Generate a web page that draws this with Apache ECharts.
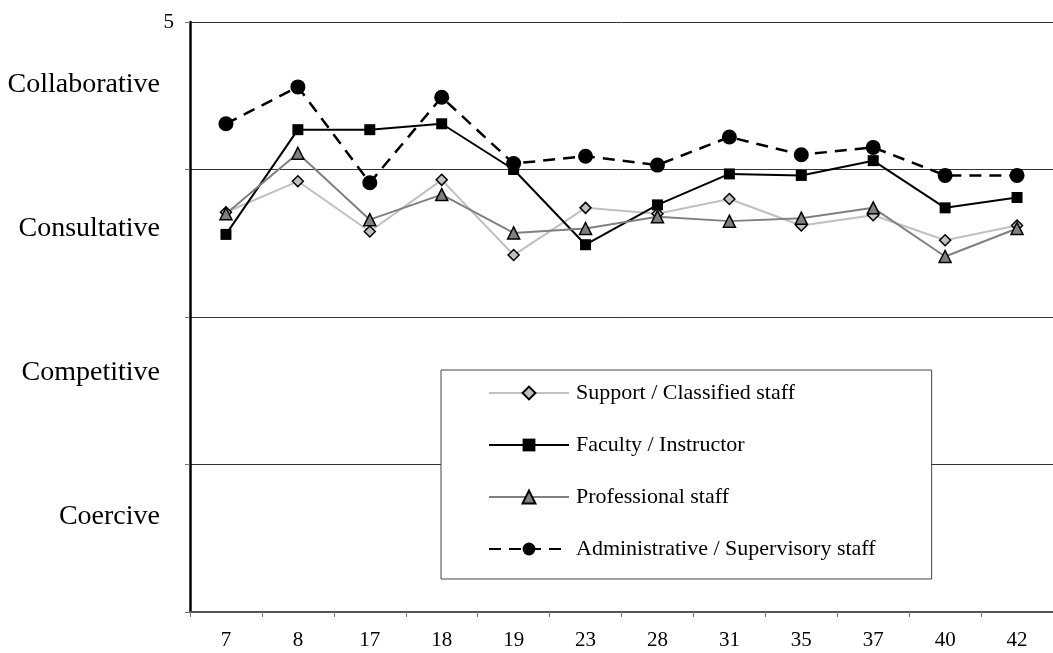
<!DOCTYPE html>
<html>
<head>
<meta charset="utf-8">
<script src="https://cdn.jsdelivr.net/npm/echarts@6/dist/echarts.min.js"></script>
<style>
  html, body { margin: 0; padding: 0; background: #fff; }
  #chart { width: 1053px; height: 653px; }
</style>
</head>
<body>
<div id="chart"></div>
<script>
// Survey items on the horizontal axis
const categories = ['7', '8', '17', '18', '19', '23', '28', '31', '35', '37', '40', '42'];

// Mean scores per staff group (scale 1 - 5)
const supportStaff   = [3.71, 3.92, 3.58, 3.93, 3.42, 3.74, 3.70, 3.80, 3.62, 3.69, 3.52, 3.62];
const faculty        = [3.56, 4.27, 4.27, 4.31, 4.00, 3.49, 3.76, 3.97, 3.96, 4.06, 3.74, 3.81];
const professional   = [3.70, 4.11, 3.66, 3.83, 3.57, 3.60, 3.68, 3.65, 3.67, 3.74, 3.41, 3.60];
const administrative = [4.31, 4.56, 3.91, 4.49, 4.04, 4.09, 4.03, 4.22, 4.10, 4.15, 3.96, 3.96];

const seriesNames = [
  'Support / Classified staff',
  'Faculty / Instructor',
  'Professional staff',
  'Administrative / Supervisory staff'
];

// Descriptive bands from top to bottom of the scale
const styleBands = ['Collaborative', 'Consultative', 'Competitive', 'Coercive'];

// Only the top of the scale carries a number
const yTickLabels = { 5: '5' };

const FONT = '"Liberation Serif", "Times New Roman", serif';

const chart = echarts.init(document.getElementById('chart'));

chart.setOption({
  animation: false,
  backgroundColor: '#fff',
  textStyle: { fontFamily: FONT },
  grid: { left: 190, top: 22, bottom: 41, width: 873.6, containLabel: false },
  xAxis: {
    type: 'category',
    data: categories,
    boundaryGap: true,
    axisLine: { show: true, lineStyle: { color: '#555', width: 2 } },
    axisTick: { show: true, length: 5, alignWithLabel: false, lineStyle: { color: '#777', width: 1 } },
    axisLabel: { margin: 18, color: '#000', fontFamily: FONT, fontSize: 21 },
    splitLine: { show: false }
  },
  yAxis: {
    type: 'value',
    min: 1,
    max: 5,
    interval: 1,
    axisLine: { show: true, lineStyle: { color: '#000', width: 2.5 } },
    axisTick: { show: true, length: 5, lineStyle: { color: '#777', width: 1 } },
    axisLabel: {
      margin: 16,
      color: '#000',
      fontFamily: FONT,
      fontSize: 21,
      formatter: v => yTickLabels[v] || ''
    },
    splitLine: { show: true, lineStyle: { color: '#333', width: 1 } }
  },
  legend: {
    orient: 'vertical',
    left: 441,
    top: 370,
    padding: [12, 56, 19, 47],
    itemWidth: 80,
    itemHeight: 16,
    itemGap: 30,
    backgroundColor: '#fff',
    borderColor: '#444',
    borderWidth: 1,
    borderRadius: 0,
    textStyle: { fontFamily: FONT, fontSize: 22, color: '#000', lineHeight: 22, padding: [0, 0, 0, 2] },
    data: seriesNames
  },
  series: [
    {
      name: seriesNames[0],
      type: 'line',
      data: supportStaff,
      symbol: 'diamond',
      symbolSize: 11,
      lineStyle: { color: '#c0c0c0', width: 2 },
      itemStyle: { color: '#c0c0c0', borderColor: '#000', borderWidth: 1.5 }
    },
    {
      name: seriesNames[1],
      type: 'line',
      data: faculty,
      symbol: 'rect',
      symbolSize: 11,
      lineStyle: { color: '#000', width: 2 },
      itemStyle: { color: '#000' }
    },
    {
      name: seriesNames[2],
      type: 'line',
      data: professional,
      symbol: 'triangle',
      symbolSize: 12,
      lineStyle: { color: '#808080', width: 2 },
      itemStyle: { color: '#808080', borderColor: '#000', borderWidth: 1.5 }
    },
    {
      name: seriesNames[3],
      type: 'line',
      data: administrative,
      symbol: 'circle',
      symbolSize: 15,
      lineStyle: { color: '#000', width: 2.5, type: [12, 8] },
      itemStyle: { color: '#000' }
    }
  ],
  graphic: [
    {
      type: 'text',
      x: 160,
      y: 13,
      style: {
        text: styleBands.join('\n'),
        font: '28px ' + FONT,
        lineHeight: 144,
        align: 'right',
        verticalAlign: 'top',
        fill: '#000'
      }
    }
  ]
});
</script>
</body>
</html>
